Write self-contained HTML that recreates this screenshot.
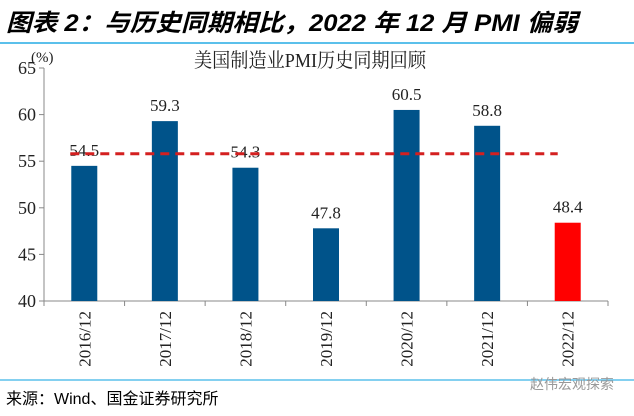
<!DOCTYPE html>
<html><head><meta charset="utf-8"><style>
body{margin:0;width:634px;height:411px;background:#fff;overflow:hidden;font-family:"Liberation Serif","Noto Serif CJK SC",serif;}
</style></head><body>
<svg width="634" height="411">
<text x="6" y="31" textLength="572" lengthAdjust="spacingAndGlyphs" font-family="Liberation Sans,Noto Sans CJK SC,sans-serif" font-weight="bold" font-style="italic" font-size="24" fill="#000">图表 2：与历史同期相比，2022 年 12 月 PMI 偏弱</text>
<line x1="0" y1="43" x2="634" y2="43" stroke="#5bc0eb" stroke-width="2"/>
<text x="310" y="67" text-anchor="middle" textLength="232" lengthAdjust="spacingAndGlyphs" font-size="20" fill="#222">美国制造业PMI历史同期回顾</text>
<text x="31" y="62" font-size="15" fill="#222">(%)</text>
<g id="plot"></g>
<line x1="0" y1="380" x2="634" y2="380" stroke="#5bc0eb" stroke-width="1.5"/>
<text x="6" y="404" font-family="Liberation Sans,Noto Sans CJK SC,sans-serif" font-size="16" fill="#000">来源：Wind、国金证券研究所</text>
<text x="530" y="389" font-family="Liberation Sans,Noto Sans CJK SC,sans-serif" font-size="14" fill="#999">赵伟宏观探索</text>
</svg>
<script>
const categories=["2016/12","2017/12","2018/12","2019/12","2020/12","2021/12","2022/12"];
const values=[54.5,59.3,54.3,47.8,60.5,58.8,48.4];
const avgLine=[55.8];
const yTicks=[40,45,50,55,60,65];
const NS="http://www.w3.org/2000/svg";
const g=document.getElementById('plot');
const x0=44,x1=608,yb=301,yt=68,ymin=40,ymax=65;
const y=v=>yb-(v-ymin)/(ymax-ymin)*(yb-yt);
const cw=(x1-x0)/categories.length;
const xc=i=>x0+cw*(i+0.5);
function mk(t,a){const e=document.createElementNS(NS,t);for(const k in a)e.setAttribute(k,a[k]);g.appendChild(e);return e;}
let ax=mk('line',{x1:x0,y1:yt,x2:x0,y2:yb,stroke:'#888'});


let bx=mk('line',{x1:x0,y1:yb,x2:x1,y2:yb,stroke:'#888'});


yTicks.forEach(v=>{
 const tl=mk('line',{x1:x0-5,y1:y(v),x2:x0,y2:y(v),stroke:'#888'});
 
 
 const t=mk('text',{x:x0-8,y:y(v)+6,'text-anchor':'end','font-size':'18',fill:'#222'});
 t.textContent=v;
 
 
});
for(let i=0;i<=categories.length;i++){
 const tk=mk('line',{x1:x0+cw*i,y1:yb,x2:x0+cw*i,y2:yb+5,stroke:'#888'});
 
 
}
categories.forEach((c,i)=>{
 const v=values[i];
 const r=mk('rect',{x:xc(i)-13,y:y(v),width:26,height:yb-y(v),fill:i==categories.length-1?'#ff0000':'#00538a'});
 
 
 const t=mk('text',{x:xc(i),y:y(v)-10,'text-anchor':'middle','font-size':'17',fill:'#222'});
 t.textContent=v.toFixed(1);
 
 
 const cl=mk('text',{x:0,y:0,'text-anchor':'end','font-size':'17',fill:'#222',transform:`translate(${xc(i)+6},${yb+10}) rotate(-90)`});
 cl.textContent=c;
 
 
});
const dl=mk('line',{x1:xc(0)-14,y1:y(avgLine[0]),x2:xc(6)-10,y2:y(avgLine[0]),stroke:'#d42020','stroke-width':3,'stroke-dasharray':'9,6'});


</script>
</body></html>
